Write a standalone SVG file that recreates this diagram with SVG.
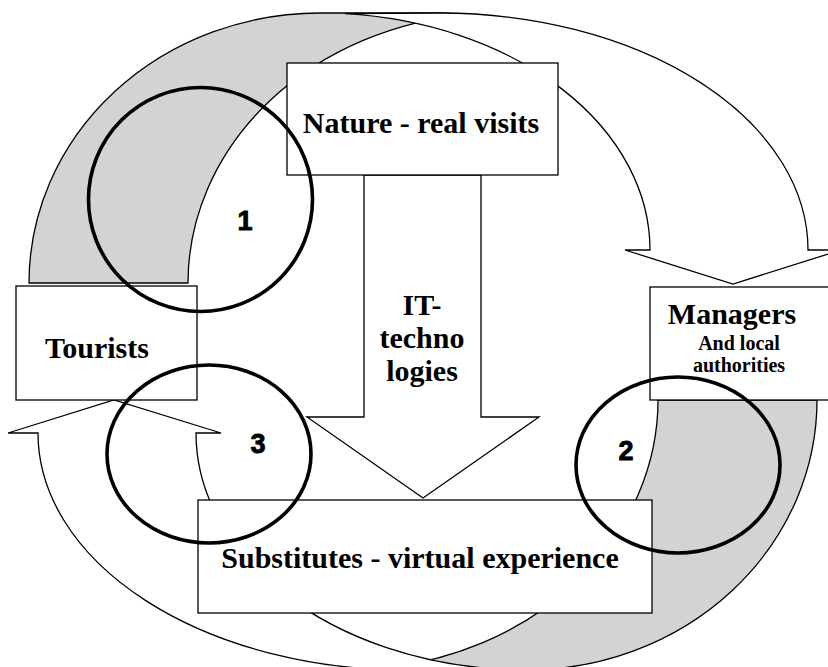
<svg xmlns="http://www.w3.org/2000/svg" width="828" height="667" viewBox="0 0 828 667">
  <style>
    .ln { stroke: #000; stroke-width: 1.3; stroke-linejoin: miter; }
    .back { fill: #d3d3d3; }
    .front { fill: #fff; }
    .box { fill: #fff; stroke: #000; stroke-width: 1.3; }
    .ring { fill: none; stroke: #000; stroke-width: 3.6; }
    .big { font-family: "Liberation Serif", "Times New Roman", serif; font-weight: bold; font-size: 30px; fill: #000; text-anchor: middle; }
    .small { font-family: "Liberation Serif", "Times New Roman", serif; font-weight: bold; font-size: 20px; fill: #000; text-anchor: middle; }
    .num { font-family: "Liberation Sans", Arial, sans-serif; font-weight: bold; font-size: 27px; fill: #000; stroke: #000; stroke-width: 0.9; text-anchor: middle; }
  </style>
  <rect width="828" height="667" fill="#fff"/>
  <g id="connectors">
    <!-- top curved arrow: Tourists -> Managers -->
    <path class="ln back" d="M 29,283 A 291,270 0 0 1 320,13 L 440,13 L 470,14.3 A 312,270 0 0 0 188,283 Z"/>
    <path class="ln front" d="M 345,13.7 L 440,13 A 368,237 0 0 1 808,250 L 841,250 L 733,284 L 625,250 L 650,250 A 331,237 0 0 0 345,13.7 Z"/>
    <!-- bottom curved arrow: Managers -> Tourists -->
    <path class="ln back" d="M 817,400 A 291,270 0 0 1 526,670 L 406,670 L 376,668.7 A 312,270 0 0 0 658,400 Z"/>
    <path class="ln front" d="M 501,669.3 L 406,670 A 368,237 0 0 1 38,433 L 8,433 L 114,400 L 221,433 L 196,433 A 331,237 0 0 0 501,669.3 Z"/>
    <!-- IT-technologies block arrow -->
    <path class="ln front" d="M 364,175 L 481,175 L 481,417 L 539,417 L 423,498 L 307,417 L 364,417 Z"/>
    <text class="big" x="422" y="315">IT-</text>
    <text class="big" x="422" y="348">techno</text>
    <text class="big" x="422" y="381">logies</text>
  </g>
  <g id="nature">
    <rect class="box" x="287" y="63" width="271" height="112"/>
    <text class="big" x="421" y="133">Nature - real visits</text>
  </g>
  <g id="tourists">
    <rect class="box" x="16" y="286" width="181" height="114"/>
    <text class="big" x="97" y="358">Tourists</text>
  </g>
  <g id="managers">
    <rect class="box" x="650" y="287" width="190" height="113"/>
    <text class="big" x="732" y="324">Managers</text>
    <text class="small" x="739" y="350">And local</text>
    <text class="small" x="739" y="372">authorities</text>
  </g>
  <g id="substitutes">
    <rect class="box" x="198" y="500" width="454" height="113"/>
    <text class="big" x="420" y="568">Substitutes - virtual experience</text>
  </g>
  <g id="zones">
    <ellipse class="ring" cx="200.5" cy="199.5" rx="112" ry="112"/>
    <ellipse class="ring" cx="678" cy="465" rx="102" ry="88"/>
    <ellipse class="ring" cx="209" cy="454" rx="102" ry="89"/>
    <text class="num" x="245" y="230">1</text>
    <text class="num" x="626" y="460">2</text>
    <text class="num" x="258" y="453">3</text>
  </g>
</svg>
